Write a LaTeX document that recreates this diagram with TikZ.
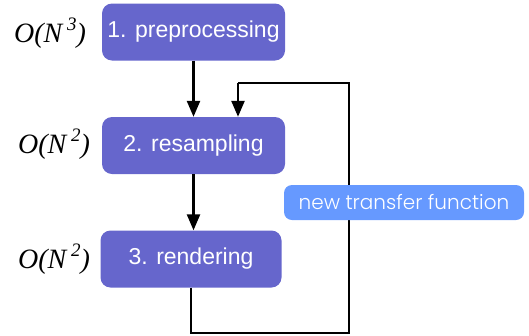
\documentclass[tikz,border=0pt]{standalone}
\usepackage{fontspec}
\setmainfont{Liberation Sans}
\newfontfamily\timesfont{Liberation Serif}
\newfontfamily\geofont{Poppins Light}
\usetikzlibrary{arrows.meta}
\definecolor{stepblue}{HTML}{6666CC}
\definecolor{notecol}{HTML}{6699FF}
\newcommand{\costexp}[1]{\,\raisebox{0.42em}{\fontsize{19}{19}\selectfont #1}}
\tikzset{
  stepbox/.style={fill=stepblue, rounded corners=10pt, minimum width=183pt, minimum height=57pt,
    inner sep=0pt, text=white, font=\fontsize{23}{25}\selectfont},
  cost/.style={font=\timesfont\itshape\fontsize{28}{30}\selectfont, inner sep=0pt},
  flow/.style={line width=2.4pt, -{Triangle[width=13pt,length=16pt]}},
  loopline/.style={line width=2.4pt},
  notebox/.style={fill=notecol, rounded corners=8pt, minimum width=240pt, minimum height=35pt,
    inner sep=0pt, text=white, font=\geofont\fontsize{20}{22}\selectfont},
}
\begin{document}
\begin{tikzpicture}[x=1pt,y=-1pt]
\useasboundingbox (0,0) rectangle (529,335);
\node[stepbox] (s1) at (193.5,32) {1. preprocessing};
\node[stepbox] (s2) at (193.5,145.5) {2. resampling};
\node[stepbox, minimum width=181pt] (s3) at (191,259) {3. rendering};
\node[cost] (c1) at (50,33) {O(N\costexp{3})};
\node[cost] (c2) at (54,144) {O(N\costexp{2})};
\node[cost] (c3) at (54,259) {O(N\costexp{2})};
\coordinate (b1) at (191,333);
\coordinate (b2) at (349,333);
\coordinate (b3) at (349,83);
\coordinate (b4) at (238,83);
\draw[flow] (s1.south) -- (s2.north);
\draw[flow] (s2.south) -- (s2.south |- s3.north);
\draw[loopline, line join=miter] (s3.south) -- (b1) -- (b2) -- (b3) -- (b4);
\draw[flow] (b4) -- (b4 |- s2.north);
\node[notebox] (note) at (404,202.5) {new transfer function};
\end{tikzpicture}
\end{document}
